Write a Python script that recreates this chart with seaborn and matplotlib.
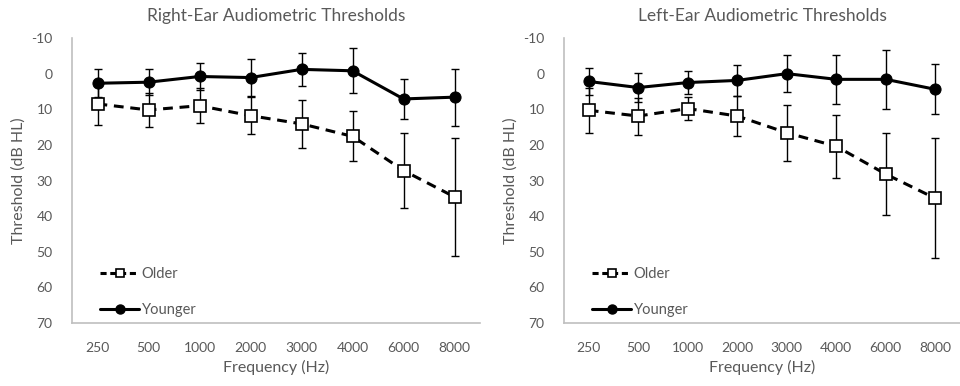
import numpy as np
import pandas as pd
import matplotlib
matplotlib.use("Agg")
import matplotlib.pyplot as plt
import seaborn as sns
from matplotlib.lines import Line2D

# Test frequencies (category axis)
frequencies = ["250", "500", "1000", "2000", "3000", "4000", "6000", "8000"]

# Right ear: mean thresholds (dB HL) and standard deviations
right_older_mean = [8.5, 10.2, 9.0, 11.8, 14.1, 17.6, 27.2, 34.6]
right_older_sd = [5.9, 4.9, 4.9, 5.2, 6.7, 7.0, 10.6, 16.5]
right_younger_mean = [2.7, 2.4, 0.8, 1.1, -1.2, -0.8, 7.1, 6.6]
right_younger_sd = [3.9, 3.6, 3.7, 5.1, 4.7, 6.3, 5.6, 8.0]

# Left ear: mean thresholds (dB HL) and standard deviations
left_older_mean = [10.3, 11.9, 9.8, 11.9, 16.6, 20.4, 28.2, 35.0]
left_older_sd = [6.3, 5.2, 3.3, 5.7, 7.8, 8.9, 11.4, 16.8]
left_younger_mean = [2.2, 3.9, 2.5, 1.9, 0.0, 1.6, 1.6, 4.4]
left_younger_sd = [3.8, 4.2, 3.2, 4.4, 5.2, 6.8, 8.3, 7.0]

titles = ["Right-Ear Audiometric Thresholds", "Left-Ear Audiometric Thresholds"]
y_ticks = list(range(-10, 71, 10))

TEXT = "#595959"
SPINE = "#bfbfbf"

sns.set_theme(style="white")
plt.rcParams["font.family"] = ["Lato", "DejaVu Sans"]

fig = plt.figure(figsize=(9.6, 3.86), dpi=100)
ax_r = fig.add_axes([0.075, 0.1632, 0.425, 0.7383])
ax_l = fig.add_axes([0.5875, 0.1632, 0.4125, 0.7383])

panels = [
    (ax_r, titles[0], right_older_mean, right_older_sd, right_younger_mean, right_younger_sd),
    (ax_l, titles[1], left_older_mean, left_older_sd, left_younger_mean, left_younger_sd),
]

for ax, title, o_mean, o_sd, y_mean, y_sd in panels:
    df = pd.DataFrame({
        "Frequency": frequencies * 2,
        "Threshold": o_mean + y_mean,
        "SD": o_sd + y_sd,
        "Group": ["Older"] * len(frequencies) + ["Younger"] * len(frequencies),
    })
    older = df[df["Group"] == "Older"]
    younger = df[df["Group"] == "Younger"]

    # standard-deviation whiskers
    for sub in (younger, older):
        ax.errorbar(sub["Frequency"], sub["Threshold"], yerr=sub["SD"],
                    fmt="none", ecolor="black", elinewidth=1.0,
                    capsize=3, capthick=1.0, zorder=2)

    sns.lineplot(data=younger, x="Frequency", y="Threshold", sort=False,
                 color="black", linewidth=2.2, marker="o", markersize=8,
                 markerfacecolor="black", markeredgecolor="black", ax=ax, zorder=3)
    sns.lineplot(data=older, x="Frequency", y="Threshold", sort=False,
                 color="black", linewidth=2.2, marker="s", markersize=9,
                 markerfacecolor="white", markeredgecolor="black",
                 markeredgewidth=1.2, ax=ax, zorder=4)
    ax.get_lines()[-1].set_dashes((3.2, 2.2))

    ax.set_xlim(-0.5, len(frequencies) - 0.5)
    ax.set_ylim(70, -10)
    ax.set_yticks(y_ticks)
    ax.set_yticklabels([str(t) for t in y_ticks])

    ax.set_title(title, fontsize=12.5, color=TEXT, pad=12)
    ax.set_xlabel("Frequency (Hz)", fontsize=11.5, color=TEXT, labelpad=4)
    ax.set_ylabel("Threshold (dB HL)", fontsize=11.5, color=TEXT, labelpad=4)
    ax.tick_params(axis="both", length=0, labelsize=10, colors=TEXT)
    ax.tick_params(axis="y", pad=14)
    ax.tick_params(axis="x", pad=14)

    for side in ("top", "right"):
        ax.spines[side].set_visible(False)
    for side in ("left", "bottom"):
        ax.spines[side].set_color(SPINE)
        ax.spines[side].set_linewidth(1.2)

    handles = [
        Line2D([], [], color="black", linewidth=2.2, dashes=(2.0, 1.2),
               marker="s", markersize=6, markerfacecolor="white",
               markeredgecolor="black", markeredgewidth=1.2),
        Line2D([], [], color="black", linewidth=2.2, marker="o", markersize=6.5,
               markerfacecolor="black"),
    ]
    x_anchor = 28 / (ax.get_position().width * 960)
    leg = ax.legend(handles, ["Older", "Younger"], loc="lower left",
                    bbox_to_anchor=(x_anchor, 0.02), frameon=False, fontsize=10.5,
                    handlelength=2.7, handletextpad=0.15, labelspacing=1.55,
                    borderaxespad=0, borderpad=0)
    for t in leg.get_texts():
        t.set_color(TEXT)

fig.savefig("out.png", dpi=100)
